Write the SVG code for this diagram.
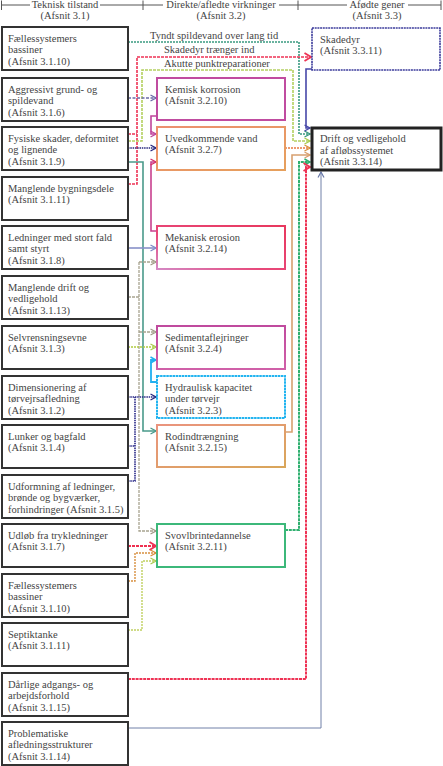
<svg xmlns="http://www.w3.org/2000/svg" width="443" height="766" viewBox="0 0 443 766">
<style>
.t{font-family:"Liberation Serif","Times New Roman",serif;font-size:10.5px;fill:#444;}
.h{text-anchor:middle;}
.nb{fill:#fff;stroke:#333;stroke-width:2;}
.c{fill:none;stroke-linejoin:miter;}
.hl{stroke:#555;stroke-width:1;fill:none;}
</style>
<defs>
<linearGradient id="gMek" x1="1" y1="0" x2="0" y2="1"><stop offset="0" stop-color="#e8385e"/><stop offset="0.6" stop-color="#e8487a"/><stop offset="1" stop-color="#d488c4"/></linearGradient>
<linearGradient id="gRod" x1="0" y1="0" x2="1" y2="1"><stop offset="0" stop-color="#ea947e"/><stop offset="1" stop-color="#d9a65a"/></linearGradient>
<linearGradient id="gUve" x1="0" y1="0" x2="1" y2="1"><stop offset="0" stop-color="#ec8f70"/><stop offset="1" stop-color="#e6a05c"/></linearGradient>
<linearGradient id="gSed" x1="0" y1="0" x2="0" y2="1"><stop offset="0" stop-color="#c04a9e"/><stop offset="1" stop-color="#d060a8"/></linearGradient>
<marker id="mTeal" markerUnits="userSpaceOnUse" markerWidth="8" markerHeight="8" viewBox="0 0 8 8" refX="7" refY="4" orient="auto"><path d="M1.5,1 L7,4 L1.5,7" fill="none" stroke="#3a9a80" stroke-width="1.3"/></marker>
<marker id="mRed" markerUnits="userSpaceOnUse" markerWidth="9" markerHeight="10" viewBox="0 0 9 10" refX="8" refY="5" orient="auto"><path d="M1.5,1 L8,5 L1.5,9" fill="none" stroke="#ee3355" stroke-width="1.8"/></marker>
<marker id="mYg" markerUnits="userSpaceOnUse" markerWidth="8" markerHeight="8" viewBox="0 0 8 8" refX="7" refY="4" orient="auto"><path d="M1.5,1 L7,4 L1.5,7" fill="none" stroke="#aacc50" stroke-width="1.3"/></marker>
<marker id="mLav" markerUnits="userSpaceOnUse" markerWidth="8" markerHeight="8" viewBox="0 0 8 8" refX="7" refY="4" orient="auto"><path d="M1.5,1 L7,4 L1.5,7" fill="none" stroke="#6a6aa8" stroke-width="1.3"/></marker>
<marker id="mMag" markerUnits="userSpaceOnUse" markerWidth="8" markerHeight="8" viewBox="0 0 8 8" refX="7" refY="4" orient="auto"><path d="M1.5,1 L7,4 L1.5,7" fill="none" stroke="#c0449c" stroke-width="1.3"/></marker>
<marker id="mNavy" markerUnits="userSpaceOnUse" markerWidth="8" markerHeight="8" viewBox="0 0 8 8" refX="7" refY="4" orient="auto"><path d="M1.5,1 L7,4 L1.5,7" fill="none" stroke="#2a2a80" stroke-width="1.3"/></marker>
<marker id="mPink" markerUnits="userSpaceOnUse" markerWidth="8" markerHeight="8" viewBox="0 0 8 8" refX="7" refY="4" orient="auto"><path d="M1.5,1 L7,4 L1.5,7" fill="none" stroke="#d8306a" stroke-width="1.3"/></marker>
<marker id="mTeal2" markerUnits="userSpaceOnUse" markerWidth="8" markerHeight="8" viewBox="0 0 8 8" refX="7" refY="4" orient="auto"><path d="M1.5,1 L7,4 L1.5,7" fill="none" stroke="#4a9a8a" stroke-width="1.3"/></marker>
<marker id="mLav2" markerUnits="userSpaceOnUse" markerWidth="8" markerHeight="8" viewBox="0 0 8 8" refX="7" refY="4" orient="auto"><path d="M1.5,1 L7,4 L1.5,7" fill="none" stroke="#7f8cc8" stroke-width="1.3"/></marker>
<marker id="mGray" markerUnits="userSpaceOnUse" markerWidth="8" markerHeight="8" viewBox="0 0 8 8" refX="7" refY="4" orient="auto"><path d="M1.5,1 L7,4 L1.5,7" fill="none" stroke="#a09c88" stroke-width="1.3"/></marker>
<marker id="mCyan" markerUnits="userSpaceOnUse" markerWidth="8" markerHeight="8" viewBox="0 0 8 8" refX="7" refY="4" orient="auto"><path d="M1.5,1 L7,4 L1.5,7" fill="none" stroke="#22b0f0" stroke-width="1.5"/></marker>
<marker id="mOr" markerUnits="userSpaceOnUse" markerWidth="8" markerHeight="8" viewBox="0 0 8 8" refX="7" refY="4" orient="auto"><path d="M1.5,1 L7,4 L1.5,7" fill="none" stroke="#d8903c" stroke-width="1.3"/></marker>
<marker id="mBlue" markerUnits="userSpaceOnUse" markerWidth="8" markerHeight="8" viewBox="0 0 8 8" refX="7" refY="4" orient="auto"><path d="M1.5,1 L7,4 L1.5,7" fill="none" stroke="#4848a8" stroke-width="1.3"/></marker>
<marker id="mTan" markerUnits="userSpaceOnUse" markerWidth="8" markerHeight="8" viewBox="0 0 8 8" refX="7" refY="4" orient="auto"><path d="M1.5,1 L7,4 L1.5,7" fill="none" stroke="#d89e6c" stroke-width="1.3"/></marker>
<marker id="mGreen" markerUnits="userSpaceOnUse" markerWidth="8" markerHeight="8" viewBox="0 0 8 8" refX="7" refY="4" orient="auto"><path d="M1.5,1 L7,4 L1.5,7" fill="none" stroke="#2cae6c" stroke-width="1.5"/></marker>
<marker id="mSlate" markerUnits="userSpaceOnUse" markerWidth="8" markerHeight="8" viewBox="0 0 8 8" refX="7" refY="4" orient="auto"><path d="M1.5,1 L7,4 L1.5,7" fill="none" stroke="#6878a8" stroke-width="1.2"/></marker>
</defs>
<rect width="443" height="766" fill="#fff"/>

<g id="header">
<path class="hl" d="M1.5,5 H30 M100,5 H163 M279,5 H347 M408,5 H441 M1.5,0.5 V10 M143,0.5 V10 M298,0.5 V10 M441,0.5 V10"/>
<text class="t h" x="65" y="8">Teknisk tilstand</text>
<text class="t h" x="65" y="19">(Afsnit 3.1)</text>
<text class="t h" x="221" y="8">Direkte/afledte virkninger</text>
<text class="t h" x="221" y="19">(Afsnit 3.2)</text>
<text class="t h" x="377" y="8">Afødte gener</text>
<text class="t h" x="377" y="19">(Afsnit 3.3)</text>
</g>

<g id="connectors">
<path class="c" d="M128,42 H299 V134 H310" stroke="#3a9a80" stroke-width="1.6" stroke-dasharray="2 1" marker-end="url(#mTeal)"/>
<path class="c" d="M128,134 H137" stroke="#ee3355" stroke-width="1.6" stroke-dasharray="3 1"/>
<path class="c" d="M128,184 H137 V57 H311" stroke="#ee3355" stroke-width="1.6" stroke-dasharray="3 1" marker-end="url(#mRed)"/>
<path class="c" d="M128,141 H142 V70 H293 V141 H310" stroke="#b4d060" stroke-width="1.6" stroke-dasharray="3 1" marker-end="url(#mYg)"/>
<path class="c" d="M128,98 H156" stroke="#6a6aa8" stroke-width="1.4" stroke-dasharray="3 1.5" marker-end="url(#mLav)"/>
<path class="c" d="M157,116 H151 V134 H156" stroke="#c0449c" stroke-width="1.6" marker-end="url(#mMag)"/>
<path class="c" d="M128,148 H156" stroke="#2a2a80" stroke-width="1.6" stroke-dasharray="1.5 0.8" marker-end="url(#mNavy)"/>
<path class="c" d="M157,231 H151 V162 H156" stroke="#c8408e" stroke-width="1.6" marker-end="url(#mPink)"/>
<path class="c" d="M128,162 H143 V431 H156" stroke="#4a9a8a" stroke-width="1.6" marker-end="url(#mTeal2)"/>
<path class="c" d="M128,248 H156" stroke="#8890c8" stroke-width="1.6" marker-end="url(#mLav2)"/>
<path class="c" d="M128,297 H139" stroke="#a8a490" stroke-width="1.3" stroke-dasharray="3 1"/>
<path class="c" d="M139,262 H156" stroke="#a8a490" stroke-width="1.3" stroke-dasharray="3 1" marker-end="url(#mGray)"/>
<path class="c" d="M139,332 H156" stroke="#a8a490" stroke-width="1.3" stroke-dasharray="3 1" marker-end="url(#mGray)"/>
<path class="c" d="M139,262 V531 H156" stroke="#a8a490" stroke-width="1.3" stroke-dasharray="3 1" marker-end="url(#mGray)"/>
<path class="c" d="M128,347 H156" stroke="#b0cc40" stroke-width="1.4" stroke-dasharray="2 1" marker-end="url(#mYg)"/>
<path class="c" d="M157,382 H151 V360 H156" stroke="#22b0f0" stroke-width="1.8" marker-end="url(#mCyan)"/>
<path class="c" d="M128,397 H156" stroke="#2a2a88" stroke-width="1.6" stroke-dasharray="1.5 0.8" marker-end="url(#mNavy)"/>
<path class="c" d="M128,446 H135 M128,481 H135 V397" stroke="#2a2a88" stroke-width="1.6" stroke-dasharray="1.5 0.8"/>
<path class="c" d="M128,546 H156" stroke="#ee3050" stroke-width="1.8" stroke-dasharray="3 1" marker-end="url(#mRed)"/>
<path class="c" d="M128,581 H135 V553 H156" stroke="#d89040" stroke-width="1.4" stroke-dasharray="2 1" marker-end="url(#mOr)"/>
<path class="c" d="M128,630 H142 V561 H156" stroke="#c0d060" stroke-width="1.4" stroke-dasharray="2 1" marker-end="url(#mYg)"/>
<path class="c" d="M312,69 H306 V128 H310" stroke="#4848a8" stroke-width="1.6" marker-end="url(#mBlue)"/>
<path class="c" d="M285,148 H310" stroke="#e87a40" stroke-width="1.3" stroke-dasharray="2 1" marker-end="url(#mOr)"/>
<path class="c" d="M285,432 H292 V155 H310" stroke="#d8a070" stroke-width="1.6" marker-end="url(#mTan)"/>
<path class="c" d="M285,530 H299 V162 H310" stroke="#30b070" stroke-width="2" stroke-dasharray="3 0.8" marker-end="url(#mGreen)"/>
<path class="c" d="M128,679 H306 V167 H310" stroke="#ee3355" stroke-width="2" stroke-dasharray="3 0.8" marker-end="url(#mRed)"/>
<path class="c" d="M128,728 H321 V172" stroke="#7080a8" stroke-width="1" marker-end="url(#mSlate)"/>
<text class="t" x="150" y="38.5">Tyndt spildevand over lang tid</text>
<text class="t" x="164" y="53">Skadedyr trænger ind</text>
<text class="t" x="164" y="66.5">Akutte punktreparationer</text>
</g>

<g id="n-3-1-10a"><rect class="nb" x="2" y="27" width="126" height="43"/><text class="t" x="8" y="41.5">Fællessystemers</text><text class="t" x="8" y="53">bassiner</text><text class="t" x="8" y="64.5">(Afsnit 3.1.10)</text></g>
<g id="n-3-1-6"><rect class="nb" x="2" y="78" width="126" height="43"/><text class="t" x="8" y="92.5">Aggressivt grund- og</text><text class="t" x="8" y="104">spildevand</text><text class="t" x="8" y="115.5">(Afsnit 3.1.6)</text></g>
<g id="n-3-1-9"><rect class="nb" x="2" y="127" width="126" height="43"/><text class="t" x="8" y="141.5">Fysiske skader, deformitet</text><text class="t" x="8" y="153">og lignende</text><text class="t" x="8" y="164.5">(Afsnit 3.1.9)</text></g>
<g id="n-3-1-11a"><rect class="nb" x="2" y="177" width="126" height="43"/><text class="t" x="8" y="191.5">Manglende bygningsdele</text><text class="t" x="8" y="203">(Afsnit 3.1.11)</text></g>
<g id="n-3-1-8"><rect class="nb" x="2" y="226" width="126" height="43"/><text class="t" x="8" y="240.5">Ledninger med stort fald</text><text class="t" x="8" y="252">samt styrt</text><text class="t" x="8" y="263.5">(Afsnit 3.1.8)</text></g>
<g id="n-3-1-13"><rect class="nb" x="2" y="276" width="126" height="43"/><text class="t" x="8" y="290.5">Manglende drift og</text><text class="t" x="8" y="302">vedligehold</text><text class="t" x="8" y="313.5">(Afsnit 3.1.13)</text></g>
<g id="n-3-1-3"><rect class="nb" x="2" y="326" width="126" height="43"/><text class="t" x="8" y="340.5">Selvrensningsevne</text><text class="t" x="8" y="352">(Afsnit 3.1.3)</text></g>
<g id="n-3-1-2"><rect class="nb" x="2" y="376" width="126" height="43"/><text class="t" x="8" y="390.5">Dimensionering af</text><text class="t" x="8" y="402">tørvejrsafledning</text><text class="t" x="8" y="413.5">(Afsnit 3.1.2)</text></g>
<g id="n-3-1-4"><rect class="nb" x="2" y="425" width="126" height="43"/><text class="t" x="8" y="439.5">Lunker og bagfald</text><text class="t" x="8" y="451">(Afsnit 3.1.4)</text></g>
<g id="n-3-1-5"><rect class="nb" x="2" y="475" width="126" height="43"/><text class="t" x="8" y="489.5">Udformning af ledninger,</text><text class="t" x="8" y="501">brønde og bygværker,</text><text class="t" x="8" y="512.5">forhindringer (Afsnit 3.1.5)</text></g>
<g id="n-3-1-7"><rect class="nb" x="2" y="524" width="126" height="43"/><text class="t" x="8" y="538.5">Udløb fra trykledninger</text><text class="t" x="8" y="550">(Afsnit 3.1.7)</text></g>
<g id="n-3-1-10b"><rect class="nb" x="2" y="574" width="126" height="43"/><text class="t" x="8" y="588.5">Fællessystemers</text><text class="t" x="8" y="600">bassiner</text><text class="t" x="8" y="611.5">(Afsnit 3.1.10)</text></g>
<g id="n-3-1-11b"><rect class="nb" x="2" y="623" width="126" height="43"/><text class="t" x="8" y="637.5">Septiktanke</text><text class="t" x="8" y="649">(Afsnit 3.1.11)</text></g>
<g id="n-3-1-15"><rect class="nb" x="2" y="673" width="126" height="43"/><text class="t" x="8" y="687.5">Dårlige adgangs- og</text><text class="t" x="8" y="699">arbejdsforhold</text><text class="t" x="8" y="710.5">(Afsnit 3.1.15)</text></g>
<g id="n-3-1-14"><rect class="nb" x="2" y="722" width="126" height="43"/><text class="t" x="8" y="736.5">Problematiske</text><text class="t" x="8" y="748">afledningsstrukturer</text><text class="t" x="8" y="759.5">(Afsnit 3.1.14)</text></g>

<g id="n-3-2-10"><rect x="157" y="78" width="128" height="42" fill="#fff" stroke="#c04ca0" stroke-width="2"/><text class="t" x="165" y="92.5">Kemisk korrosion</text><text class="t" x="165" y="104">(Afsnit 3.2.10)</text></g>
<g id="n-3-2-7"><rect x="157" y="127" width="128" height="43" fill="#fff" stroke="url(#gUve)" stroke-width="2"/><text class="t" x="165" y="141.5">Uvedkommende vand</text><text class="t" x="165" y="153">(Afsnit 3.2.7)</text></g>
<g id="n-3-2-14"><rect x="157" y="226" width="128" height="43" fill="#fff" stroke="url(#gMek)" stroke-width="2"/><text class="t" x="165" y="240.5">Mekanisk erosion</text><text class="t" x="165" y="252">(Afsnit 3.2.14)</text></g>
<g id="n-3-2-4"><rect x="157" y="326" width="128" height="43" fill="#fff" stroke="url(#gSed)" stroke-width="2"/><text class="t" x="165" y="340.5">Sedimentaflejringer</text><text class="t" x="165" y="352">(Afsnit 3.2.4)</text></g>
<g id="n-3-2-3"><rect x="157" y="376" width="128" height="42" fill="#fff" stroke="#22b4f0" stroke-width="2" stroke-dasharray="2.5 0.6"/><text class="t" x="165" y="390.5">Hydraulisk kapacitet</text><text class="t" x="165" y="402">under tørvejr</text><text class="t" x="165" y="413.5">(Afsnit 3.2.3)</text></g>
<g id="n-3-2-15"><rect x="157" y="425" width="128" height="42" fill="#fff" stroke="url(#gRod)" stroke-width="2"/><text class="t" x="165" y="439.5">Rodindtrængning</text><text class="t" x="165" y="451">(Afsnit 3.2.15)</text></g>
<g id="n-3-2-11"><rect x="157" y="524" width="128" height="43" fill="#fff" stroke="#3cb87a" stroke-width="2"/><text class="t" x="165" y="538.5">Svovlbrintedannelse</text><text class="t" x="165" y="550">(Afsnit 3.2.11)</text></g>

<g id="n-3-3-11"><rect x="312" y="28" width="128" height="42" fill="#fff" stroke="#3c3c9c" stroke-width="1.6" stroke-dasharray="2 0.7"/><text class="t" x="320" y="42.5">Skadedyr</text><text class="t" x="320" y="54">(Afsnit 3.3.11)</text></g>
<g id="n-3-3-14"><rect x="312" y="128" width="129" height="42" fill="#fff" stroke="#222" stroke-width="3"/><text class="t" x="320" y="142">Drift og vedligehold</text><text class="t" x="320" y="153.5">af afløbssystemet</text><text class="t" x="320" y="165">(Afsnit 3.3.14)</text></g>
</svg>
